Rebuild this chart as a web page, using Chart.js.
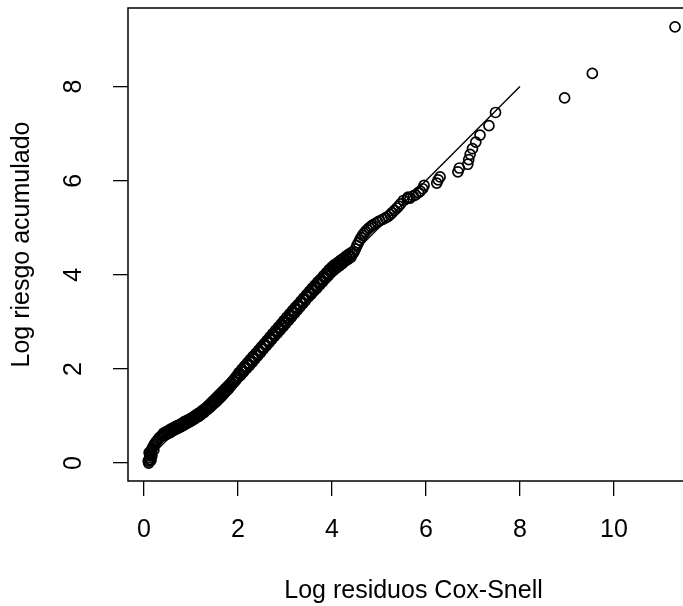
<!DOCTYPE html>
<html>
<head>
<meta charset="utf-8">
<script src="https://cdn.jsdelivr.net/npm/chart.js@4.4.0/dist/chart.umd.min.js"></script>
<style>
  html, body { margin: 0; padding: 0; background: #fff; overflow: hidden; }
  #plot { display: block; }
</style>
</head>
<body>
<canvas id="plot" width="720" height="606"></canvas>
<script>
// Log residuos Cox-Snell (x) vs log riesgo acumulado (y)
const logResid = [
  0.10,0.11,0.12,0.12,0.13,0.14,0.15,0.16,0.18,0.20,0.22,0.25,0.28,0.31,0.34,0.37,0.40,
  0.09,0.15,0.17,0.11,0.21,
  0.42,0.44,0.46,0.48,0.50,0.52,0.54,0.56,0.58,0.60,0.62,0.64,0.66,0.68,0.70,0.72,0.74,0.76,0.78,0.80,0.82,0.84,0.86,0.88,0.90,0.92,0.94,0.96,0.98,1.00,
  1.02,1.04,1.06,1.08,1.10,1.12,1.14,1.16,1.18,1.20,
  1.22,1.24,1.26,1.28,1.30,1.32,1.34,1.36,1.38,1.40,
  1.42,1.44,1.46,1.48,1.50,1.52,1.54,1.56,1.58,1.60,
  1.62,1.64,1.66,1.68,1.70,1.72,1.74,1.76,1.78,1.80,
  1.82,1.84,1.86,1.88,1.90,1.92,1.94,1.96,1.98,2.00,
  2.02,2.04,2.06,2.08,2.10,2.12,2.14,2.16,2.18,2.20,
  2.22,2.24,2.26,2.28,2.30,2.32,2.34,2.36,2.38,2.40,
  2.42,2.44,2.46,2.48,2.50,2.52,2.54,2.56,2.58,2.60,
  2.62,2.64,2.66,2.68,2.70,2.72,2.74,2.76,2.78,2.80,
  2.82,2.84,2.86,2.88,2.90,2.92,2.94,2.96,2.98,3.00,
  3.02,3.04,3.06,3.08,3.10,3.12,3.14,3.16,3.18,3.20,
  3.22,3.24,3.26,3.28,3.30,3.32,3.34,3.36,3.38,3.40,
  3.42,3.44,3.46,3.48,3.50,3.52,3.54,3.56,3.58,3.60,
  3.62,3.64,3.66,3.68,3.70,3.72,3.74,3.76,3.78,3.80,
  3.82,3.84,3.86,3.88,3.90,3.92,3.94,3.96,3.98,4.00,
  4.02,4.04,4.06,4.08,4.10,4.12,4.14,4.16,4.18,4.20,
  4.22,4.24,4.26,4.28,4.30,4.32,4.34,4.36,4.38,4.40,
  4.42,4.44,
  4.47,4.50,4.53,4.56,4.59,4.62,4.65,4.68,4.71,4.75,4.79,4.83,4.87,4.92,4.97,5.02,5.08,5.14,5.19,5.24,5.28,5.33,5.38,5.42,5.46,
  5.52,5.60,5.62,5.66,5.73,5.78,5.84,5.88,5.93,5.96,
  6.23,6.26,6.30,6.68,6.71,6.89,6.91,6.94,6.99,7.06,
  7.15,7.34,7.48,8.95,9.54,11.30
];
const logCumHaz = [
  0.00,0.04,0.08,0.12,0.16,0.20,0.24,0.28,0.32,0.36,0.40,0.44,0.48,0.52,0.55,0.58,0.60,
  0.05,0.06,0.16,0.22,0.28,
  0.64,0.59,0.66,0.61,0.68,0.63,0.70,0.65,0.73,0.68,0.75,0.70,0.77,0.72,0.79,0.74,0.81,0.76,0.83,0.78,0.85,0.80,0.88,0.83,0.90,0.85,0.92,0.87,0.94,0.89,
  0.96,0.92,0.99,0.94,1.02,0.97,1.04,0.99,1.07,1.02,
  1.10,1.05,1.13,1.08,1.16,1.12,1.19,1.15,1.22,1.18,
  1.26,1.22,1.30,1.26,1.33,1.29,1.37,1.33,1.41,1.37,
  1.45,1.41,1.49,1.45,1.53,1.50,1.58,1.54,1.62,1.58,
  1.66,1.63,1.71,1.68,1.76,1.72,1.81,1.77,1.86,1.82,
  1.92,1.90,1.87,1.99,1.96,1.94,2.06,2.03,2.01,2.13,
  2.10,2.07,2.20,2.17,2.14,2.27,2.24,2.21,2.33,2.31,
  2.28,2.40,2.38,2.35,2.47,2.44,2.42,2.54,2.51,2.49,
  2.61,2.58,2.56,2.68,2.65,2.63,2.75,2.72,2.70,2.82,
  2.79,2.76,2.89,2.86,2.83,2.96,2.93,2.90,3.03,3.00,
  2.97,3.10,3.07,3.04,3.17,3.14,3.11,3.24,3.21,3.18,
  3.31,3.28,3.25,3.37,3.35,3.32,3.44,3.42,3.39,3.51,
  3.49,3.46,3.58,3.56,3.53,3.65,3.62,3.59,3.72,3.69,
  3.66,3.78,3.75,3.72,3.85,3.82,3.79,3.91,3.88,3.85,
  3.98,3.95,3.92,4.04,4.01,3.98,4.11,4.08,4.05,4.17,
  4.14,4.10,4.22,4.18,4.15,4.26,4.23,4.19,4.31,4.27,
  4.24,4.35,4.32,4.29,4.40,4.36,4.33,4.44,4.40,4.37,
  4.48,4.44,
  4.49,4.55,4.62,4.68,4.74,4.79,4.84,4.88,4.92,4.96,5.00,5.03,5.06,5.09,5.12,5.15,5.18,5.21,5.24,5.28,5.32,5.37,5.42,5.46,5.51,
  5.58,5.62,5.65,5.63,5.68,5.70,5.75,5.78,5.83,5.90,
  5.95,6.02,6.08,6.19,6.27,6.35,6.45,6.56,6.68,6.82,
  6.97,7.17,7.45,7.76,8.28,9.27
];

// reference line y = x
const refX = [0, 8];
const refY = [0, 8];

const xTicks = [0, 2, 4, 6, 8, 10];
const yTicks = [0, 2, 4, 6, 8];

const xTitle = 'Log residuos Cox-Snell';
const yTitle = 'Log riesgo acumulado';

const FONT = '"Liberation Sans", Arial, Helvetica, sans-serif';

const points = logResid.map((x, i) => ({ x: x, y: logCumHaz[i] }));
const refLine = refX.map((x, i) => ({ x: x, y: refY[i] }));

// box round the plot region and the rotated y tick labels (R style)
const frame = {
  id: 'frame',
  afterDraw(chart) {
    const ctx = chart.ctx;
    const a = chart.chartArea;
    ctx.save();
    ctx.strokeStyle = '#000';
    ctx.lineWidth = 1.5;
    ctx.strokeRect(a.left, a.top, a.right - a.left, a.bottom - a.top);
    ctx.fillStyle = '#000';
    ctx.font = '25px ' + FONT;
    ctx.textAlign = 'center';
    ctx.textBaseline = 'middle';
    for (const v of yTicks) {
      const py = chart.scales.y.getPixelForValue(v);
      ctx.save();
      ctx.translate(74, py);
      ctx.rotate(-Math.PI / 2);
      ctx.fillText(String(v), 0, 0);
      ctx.restore();
    }
    ctx.restore();
  }
};

new Chart(document.getElementById('plot'), {
  type: 'scatter',
  data: {
    datasets: [
      {
        data: points,
        pointStyle: 'circle',
        pointRadius: 5,
        pointHoverRadius: 5,
        pointBorderWidth: 1.7,
        borderColor: '#000',
        backgroundColor: 'rgba(0,0,0,0)',
        showLine: false
      },
      {
        data: refLine,
        showLine: true,
        borderColor: '#000',
        borderWidth: 1.4,
        pointRadius: 0,
        fill: false
      }
    ]
  },
  options: {
    responsive: false,
    animation: false,
    events: [],
    layout: { padding: { left: 0, top: 8, right: 21, bottom: 0 } },
    plugins: { legend: { display: false }, tooltip: { enabled: false } },
    scales: {
      x: {
        type: 'linear',
        min: -0.34,
        max: 11.81,
        afterBuildTicks: (s) => { s.ticks = xTicks.map(v => ({ value: v })); },
        afterFit: (s) => { s.height = 125; },
        border: { display: false },
        grid: { drawOnChartArea: false, drawTicks: true, tickLength: 15, color: '#000', lineWidth: 1.3 },
        ticks: { color: '#000', font: { family: FONT, size: 25 }, padding: 19, maxRotation: 0 },
        title: { display: true, text: xTitle, color: '#000', font: { family: FONT, size: 25 }, padding: { top: 0, bottom: 0 } }
      },
      y: {
        type: 'linear',
        min: -0.38,
        max: 9.67,
        afterBuildTicks: (s) => { s.ticks = yTicks.map(v => ({ value: v })); },
        afterFit: (s) => { s.width = 128; },
        border: { display: false },
        grid: { drawOnChartArea: false, drawTicks: true, tickLength: 15, color: '#000', lineWidth: 1.3 },
        ticks: { display: false },
        title: { display: true, text: yTitle, color: '#000', font: { family: FONT, size: 25 }, padding: { top: 7, bottom: 0 } }
      }
    }
  },
  plugins: [frame]
});
</script>
</body>
</html>
